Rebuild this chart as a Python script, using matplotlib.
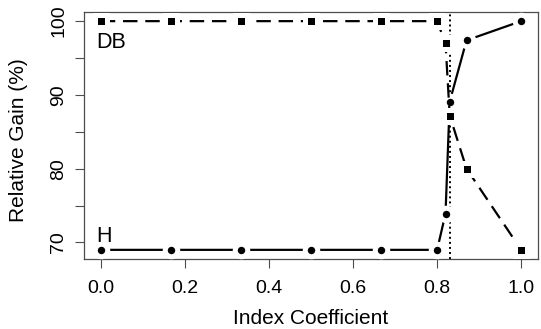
"""
Relative gain vs index coefficient, R base-graphics look
"""

import numpy as np
import matplotlib
matplotlib.use("Agg")
import matplotlib.pyplot as plt

plt.rcParams['font.family'] = ['Liberation Sans', 'DejaVu Sans']

# values
coef = [0.0, 0.167, 0.333, 0.5, 0.667, 0.8, 0.82, 0.83, 0.87, 1.0]
gain_db = [100, 100, 100, 100, 100, 100, 97.0, 87.2, 80.0, 69.0]
gain_h = [69.0, 69.0, 69.0, 69.0, 69.0, 69.0, 73.9, 89.1, 97.4, 100]
cutoff = 0.83

xticks = [0.0, 0.2, 0.4, 0.6, 0.8, 1.0]
yticks = [70, 75, 80, 85, 90, 95, 100]
ylabels = ["70", "", "80", "", "90", "", "100"]

fig = plt.figure(figsize=(5.41, 3.29), dpi=100)
ax = fig.add_axes([84 / 541, 70 / 329, 454 / 541, 247 / 329])

axcol = '0.3'

# type="b" style: white ring around markers opens a gap in the line
ax.plot(coef, gain_h, color='black', lw=1.6, marker='o', ms=9,
        mfc='black', mec='white', mew=3.6, zorder=3)
ax.plot(coef, gain_db, color='black', lw=1.6, dashes=(6.5, 3.5),
        marker='s', ms=8.5, mfc='black', mec='white', mew=3.6, zorder=3)

ax.axvline(cutoff, color='black', lw=1.4, ls=(0, (1, 1.6)), zorder=2)

ax.text(-0.01, 96.3, "DB", fontsize=15.5, ha='left', va='baseline')
ax.text(-0.01, 70.1, "H", fontsize=15.5, ha='left', va='baseline')

ax.set_xlim(-0.04, 1.04)
ax.set_ylim(67.76, 101.24)

ax.set_xticks(xticks)
ax.set_xticklabels(["%.1f" % t for t in xticks])
ax.set_yticks(yticks)
ax.set_yticklabels(ylabels, rotation=90, va='center')

ax.tick_params(direction='out', length=6.5, width=0.8, color=axcol,
               labelsize=14)
ax.tick_params(axis='x', pad=8.5)
ax.tick_params(axis='y', pad=5.5)

for s in ax.spines.values():
    s.set_color(axcol)
    s.set_linewidth(0.9)

fig.text(311 / 541, 1 - 318 / 329, "Index Coefficient", fontsize=15,
         ha='center', va='center')
fig.text(18.5 / 541, 1 - 140 / 329, "Relative Gain (%)", fontsize=15,
         ha='center', va='center', rotation=90)

fig.savefig("out.png", dpi=100)
